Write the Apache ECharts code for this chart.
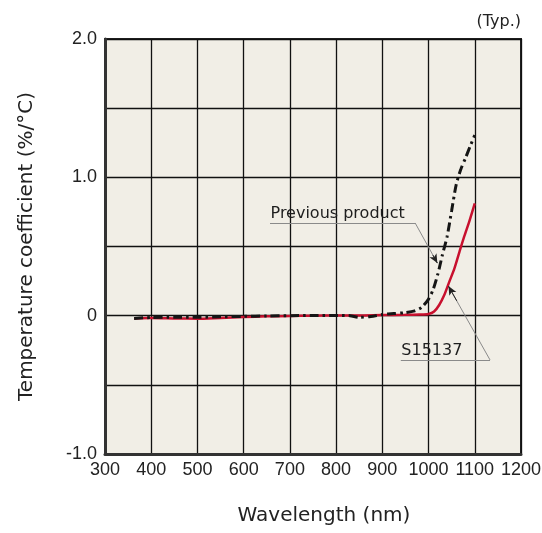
<!DOCTYPE html>
<html><head><meta charset="utf-8">
<script src="https://cdn.jsdelivr.net/npm/echarts@6/dist/echarts.min.js"></script>
<style>html,body{margin:0;padding:0;background:#fff}#c{width:542px;height:533px}</style>
</head><body><div id="c"></div>
<script>
// Previous product (black dash-dot)
const prevWavelength = [363, 400, 450, 500, 550, 600, 650, 700, 750, 800, 830, 850, 875, 900, 925, 950, 970, 985, 1000, 1010, 1020, 1030, 1040, 1050, 1060, 1070, 1080, 1090, 1100];
const prevCoef       = [-0.02, -0.013, -0.012, -0.012, -0.008, -0.005, -0.002, 0, 0.001, 0.002, 0.0, -0.012, -0.006, 0.008, 0.015, 0.022, 0.035, 0.06, 0.12, 0.19, 0.30, 0.44, 0.57, 0.76, 0.95, 1.06, 1.14, 1.225, 1.305];
// S15137 (red solid)
const s15137Wavelength = [363, 400, 450, 500, 550, 600, 650, 700, 750, 800, 850, 900, 950, 980, 1000, 1012, 1023, 1034, 1045, 1056, 1067, 1077, 1088, 1100];
const s15137Coef       = [-0.02, -0.017, -0.02, -0.022, -0.016, -0.01, -0.005, -0.002, 0.0, 0.002, 0.002, 0.005, 0.006, 0.008, 0.012, 0.03, 0.077, 0.149, 0.246, 0.342, 0.463, 0.571, 0.68, 0.812];

const xMin = 300, xMax = 1200, xStep = 100;
const yMin = -1, yMax = 2, yStep = 0.5;
const yTickText = {'2': '2.0', '1': '1.0', '0': '0', '-1': '-1.0'};

const xTitle = 'Wavelength (nm)';
const yTitle = 'Temperature coefficient (%/°C)';
const noteText = '(Typ.)';

// Annotations in data coordinates: label anchor / underline start, underline end, arrow tip
const prevNote   = {text: 'Previous product', start: [657, 0.67],  end: [971, 0.67],   tip: [1019, 0.38]};
const s15137Note = {text: 'S15137',           start: [940, -0.32], end: [1133, -0.32], tip: [1043, 0.214]};

function lerp(a, b, t) { return [a[0] + (b[0] - a[0]) * t, a[1] + (b[1] - a[1]) * t]; }
function noteLines(n) {
  const near = lerp(n.end, n.tip, 0.8);
  return [
    [{coord: n.start, symbol: 'none'}, {coord: n.end, symbol: 'none'}],
    [{coord: n.end, symbol: 'none'}, {coord: n.tip, symbol: 'none'}],
    [{coord: near, symbol: 'none', lineStyle: {color: '#222', width: 1}},
     {coord: n.tip, symbol: 'arrow', symbolSize: [6, 9], lineStyle: {color: '#222', width: 1}}]
  ];
}

const chart = echarts.init(document.getElementById('c'), null, {renderer: 'canvas'});
const textFont = 'DejaVu Sans';
chart.setOption({
  animation: false,
  backgroundColor: '#ffffff',
  grid: {left: 105, right: 21, top: 39, bottom: 79, show: true, backgroundColor: '#F1EEE6', borderColor: '#222', borderWidth: 2,
         containLabel: false, outerBoundsMode: 'none'},
  xAxis: {
    type: 'value', min: xMin, max: xMax, interval: xStep,
    name: xTitle, nameLocation: 'middle', nameGap: 52,
    nameTextStyle: {fontFamily: textFont, fontSize: 20, color: '#222', padding: [0, 0, 0, 22]},
    axisLine: {show: true, onZero: false, lineStyle: {color: '#333', width: 3}},
    axisTick: {show: false},
    axisLabel: {fontFamily: 'Liberation Sans', fontSize: 18, color: '#222', margin: 7, formatter: v => String(v)},
    splitLine: {show: true, lineStyle: {color: '#111', width: 1.3}}
  },
  yAxis: {
    type: 'value', min: yMin, max: yMax, interval: yStep,
    name: yTitle, nameLocation: 'middle', nameGap: 68,
    nameTextStyle: {fontFamily: textFont, fontSize: 20, color: '#222'},
    axisLine: {show: true, onZero: false, lineStyle: {color: '#333', width: 3}},
    axisTick: {show: false},
    axisLabel: {fontFamily: 'Liberation Sans', fontSize: 18, color: '#222', margin: 8,
      formatter: v => (yTickText[String(Math.round(v * 1000) / 1000)] || '')},
    splitLine: {show: true, lineStyle: {color: '#111', width: 1.3}}
  },
  graphic: [{type: 'text', right: 21, top: 14, style: {text: noteText, font: '16px "DejaVu Sans"', fill: '#222'}}],
  series: [
    {
      name: 'S15137', type: 'line', smooth: 0.25, symbol: 'none', z: 3,
      data: s15137Wavelength.map((x, i) => [x, s15137Coef[i]]),
      lineStyle: {color: '#C8102E', width: 2.5}
    },
    {
      name: 'Previous product', type: 'line', smooth: 0.25, symbol: 'none', z: 4,
      data: prevWavelength.map((x, i) => [x, prevCoef[i]]),
      lineStyle: {color: '#151515', width: 3, type: [9, 4, 2.5, 4]}
    },
    {
      name: 'notes', type: 'scatter', z: 5, symbolSize: 1, silent: true,
      itemStyle: {color: 'rgba(0,0,0,0)', opacity: 1},
      data: [
        {value: prevNote.start, name: prevNote.text},
        {value: s15137Note.start, name: s15137Note.text}
      ],
      label: {show: true, position: [0, 0], align: 'left', verticalAlign: 'bottom', offset: [1, -1],
        formatter: p => p.name, fontFamily: textFont, fontSize: 16, color: '#1e1e1e', opacity: 1, textBorderWidth: 0},
      markLine: {
        silent: true, animation: false, symbol: 'none', label: {show: false},
        lineStyle: {color: '#8a8a8a', width: 1, type: 'solid'},
        data: noteLines(prevNote).concat(noteLines(s15137Note))
      }
    }
  ]
});
</script></body></html>
